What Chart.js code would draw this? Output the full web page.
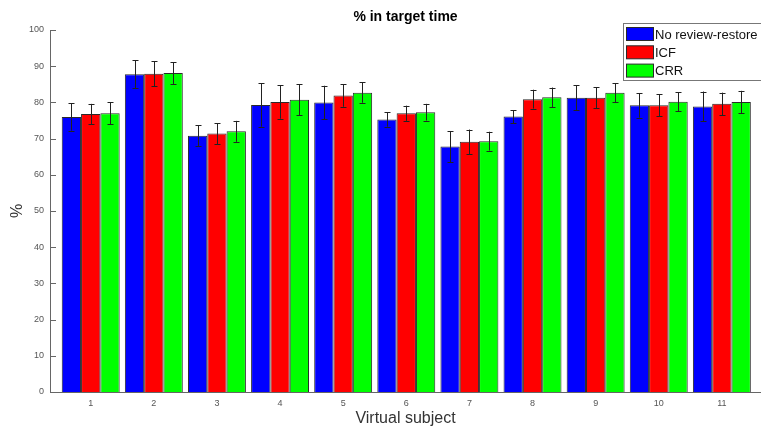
<!DOCTYPE html>
<html>
<head>
<meta charset="utf-8">
<script src="https://cdn.jsdelivr.net/npm/chart.js@4"></script>
<style>
  html, body { margin: 0; padding: 0; background: #fff; }
  #wrap { width: 761px; height: 432px; position: relative; }
</style>
</head>
<body>
<div id="wrap"><canvas id="myChart"></canvas></div>
<script>
let subjects = [1, 2, 3, 4, 5, 6, 7, 8, 9, 10, 11];
let seriesNames = ["No review-restore", "ICF", "CRR"];
let noReview = [76.0, 87.8, 70.8, 79.3, 80.0, 75.3, 67.8, 76.1, 81.3, 79.2, 78.9];
let icf      = [76.8, 87.9, 71.4, 80.1, 81.9, 77.0, 69.1, 80.9, 81.3, 79.2, 79.6];
let crr      = [77.0, 88.1, 72.0, 80.7, 82.7, 77.3, 69.3, 81.4, 82.7, 80.2, 80.1];
let errNoReview = [3.8, 3.8, 2.9, 6.0, 4.6, 2.0, 4.3, 1.8, 3.4, 3.4, 4.1];
let errIcf      = [2.8, 3.5, 2.9, 4.6, 3.1, 2.1, 3.4, 2.6, 2.9, 3.0, 3.1];
let errCrr      = [3.0, 3.0, 2.9, 4.3, 2.8, 2.3, 2.6, 2.7, 2.6, 2.6, 3.1];
let yTicks = [0, 10, 20, 30, 40, 50, 60, 70, 80, 90, 100];

let font = "'Liberation Sans', Arial, sans-serif";

function toPoints(vals) {
  return vals.map((v, i) => ({ x: subjects[i], y: v }));
}

let datasets = [
  { label: seriesNames[0], data: toPoints(noReview), backgroundColor: "#0000ff", err: errNoReview },
  { label: seriesNames[1], data: toPoints(icf), backgroundColor: "#ff0000", err: errIcf },
  { label: seriesNames[2], data: toPoints(crr), backgroundColor: "#00ff00", err: errCrr }
];
datasets.forEach(d => {
  d.borderColor = "#2a2a2a";
  d.borderWidth = 1;
  d.categoryPercentage = 0.918;
  d.barPercentage = 1.0;
});

// error bars, inward y ticks, texts and legend box
const extras = {
  id: "extras",
  afterDatasetsDraw(chart) {
    const ctx = chart.ctx;
    const ys = chart.scales.y;
    const area = chart.chartArea;
    ctx.save();
    ctx.strokeStyle = "#222";
    ctx.lineWidth = 1;
    chart.data.datasets.forEach((ds, di) => {
      const meta = chart.getDatasetMeta(di);
      meta.data.forEach((bar, i) => {
        const v = ds.data[i].y;
        const e = ds.err[i];
        const x = Math.round(bar.x) + 0.5;
        const yt = ys.getPixelForValue(v + e);
        const yb = ys.getPixelForValue(v - e);
        ctx.beginPath();
        ctx.moveTo(x, yt); ctx.lineTo(x, yb);
        ctx.moveTo(x - 3, Math.round(yt) + 0.5); ctx.lineTo(x + 3, Math.round(yt) + 0.5);
        ctx.moveTo(x - 3, Math.round(yb) + 0.5); ctx.lineTo(x + 3, Math.round(yb) + 0.5);
        ctx.stroke();
      });
    });

    // inward tick marks on y axis
    ctx.strokeStyle = "#666";
    yTicks.forEach(t => {
      const y = Math.round(ys.getPixelForValue(t)) + 0.5;
      ctx.beginPath();
      ctx.moveTo(area.left, y); ctx.lineTo(area.left + 6, y);
      ctx.stroke();
    });

    // title and axis titles
    ctx.fillStyle = "#000";
    ctx.textAlign = "center";
    ctx.textBaseline = "middle";
    ctx.font = "bold 14px " + font;
    ctx.fillText("% in target time", (area.left + area.right) / 2, 17);
    ctx.fillStyle = "#333";
    ctx.font = "16px " + font;
    ctx.fillText("Virtual subject", (area.left + area.right) / 2, 419);
    ctx.save();
    ctx.translate(18, (area.top + area.bottom) / 2);
    ctx.rotate(-Math.PI / 2);
    ctx.fillText("%", 0, 0);
    ctx.restore();

    // legend
    const lx = 623, ly = 23, lw = 150, lh = 57;
    ctx.fillStyle = "#fff";
    ctx.fillRect(lx, ly, lw, lh);
    ctx.strokeStyle = "#777";
    ctx.strokeRect(lx + 0.5, ly + 0.5, lw, lh);
    ctx.font = "13px " + font;
    ctx.textAlign = "left";
    chart.data.datasets.forEach((ds, di) => {
      const cy = 34 + di * 18.3;
      ctx.fillStyle = ds.backgroundColor;
      ctx.fillRect(626, cy - 6.5, 27, 13);
      ctx.strokeStyle = "#2a2a2a";
      ctx.strokeRect(626.5, cy - 6.5, 27, 13);
      ctx.fillStyle = "#111";
      ctx.fillText(ds.label, 655, cy + 1);
    });
    ctx.restore();
  }
};

new Chart(document.getElementById("myChart"), {
  type: "bar",
  data: { datasets: datasets },
  options: {
    responsive: true,
    maintainAspectRatio: false,
    animation: false,
    layout: { padding: { top: 30, right: 0, left: 0, bottom: 0 } },
    plugins: {
      legend: { display: false },
      title: { display: false },
      tooltip: { enabled: false }
    },
    scales: {
      x: {
        type: "linear",
        min: 0.355,
        max: 11.62,
        offset: false,
        grid: { display: false, drawTicks: false },
        border: { display: true, color: "#666", width: 1 },
        ticks: { color: "#555", font: { size: 9, family: font }, padding: 6, maxRotation: 0 },
        afterBuildTicks: (scale) => { scale.ticks = subjects.map(v => ({ value: v })); },
        afterFit: (scale) => { scale.height = 40; }
      },
      y: {
        min: 0,
        max: 100,
        grid: { display: false, drawTicks: false },
        border: { display: true, color: "#666", width: 1 },
        ticks: { color: "#555", font: { size: 9, family: font }, padding: 6, stepSize: 10 },
        afterBuildTicks: (scale) => { scale.ticks = yTicks.map(v => ({ value: v })); },
        afterFit: (scale) => { scale.width = 50; }
      }
    }
  },
  plugins: [extras]
});
</script>
</body>
</html>
